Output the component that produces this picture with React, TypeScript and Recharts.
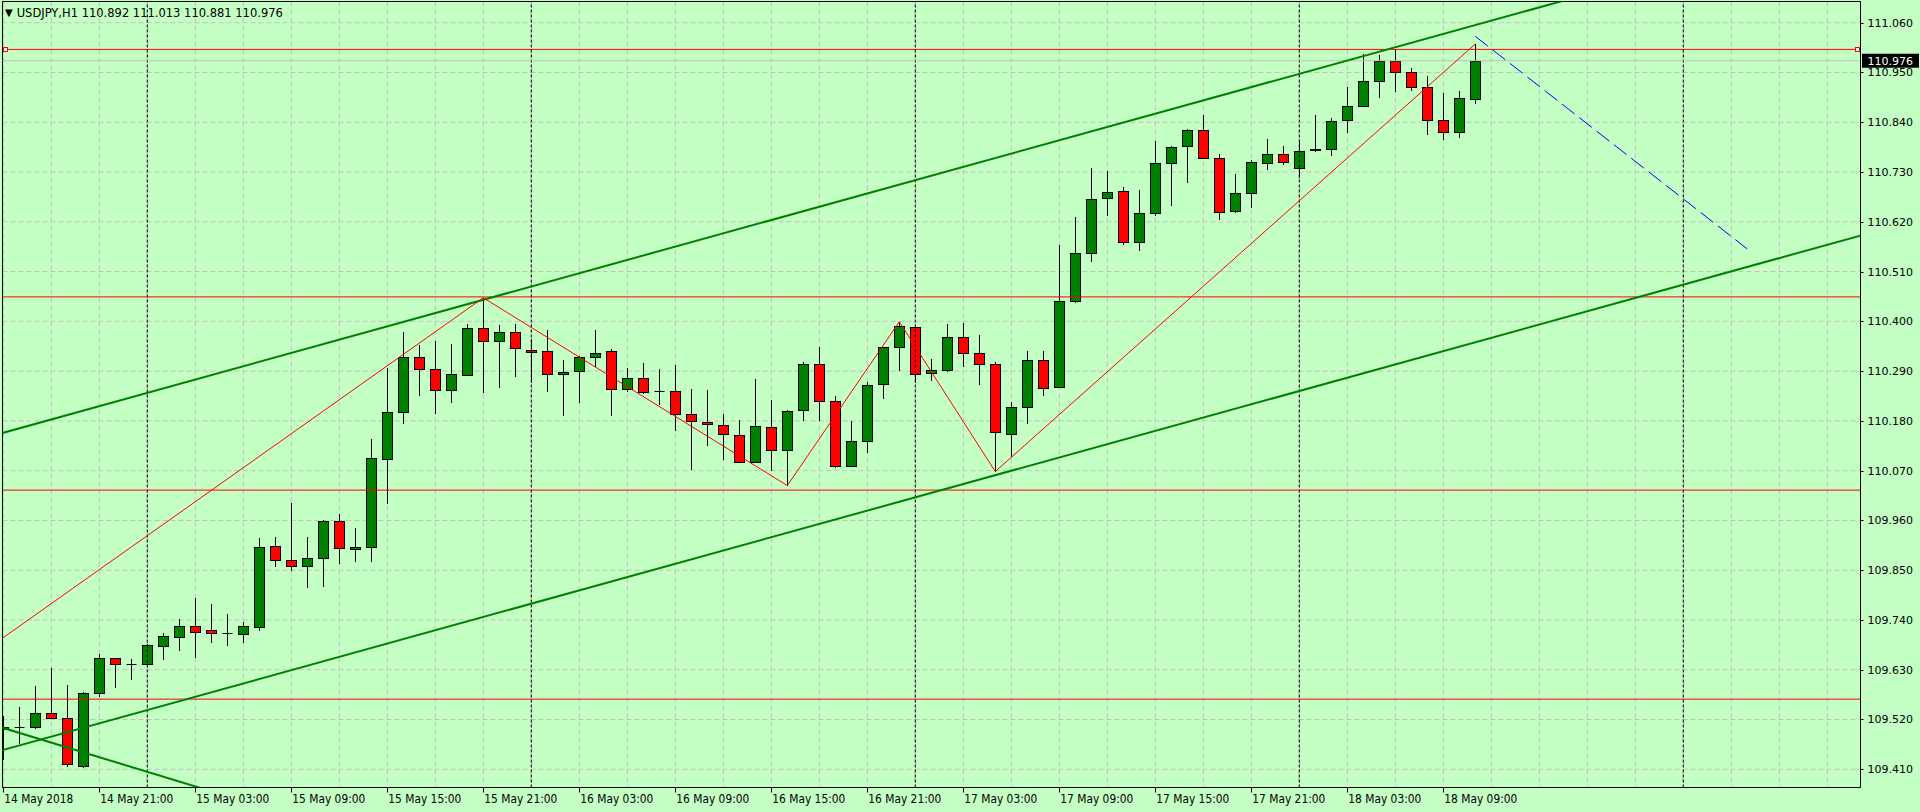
import React from "react";
import {
  ComposedChart,
  Bar,
  XAxis,
  YAxis,
  CartesianGrid,
  ReferenceLine,
} from "recharts";

// USDJPY H1, one entry per hourly bar: index 0 = 14 May 15:00 ... index 92 = 18 May 11:00
const opens = [
  109.5, 109.503, 109.503, 109.535, 109.523, 109.418, 109.578, 109.655, 109.642, 109.642,
  109.683, 109.703, 109.727, 109.718, 109.711, 109.709, 109.724, 109.903, 109.873, 109.859,
  109.878, 109.959, 109.896, 109.901, 110.095, 110.199, 110.322, 110.294, 110.248, 110.281,
  110.385, 110.356, 110.376, 110.336, 110.334, 110.283, 110.29, 110.322, 110.334, 110.25,
  110.274, 110.245, 110.245, 110.195, 110.177, 110.17, 110.148, 110.09, 110.166, 110.115,
  110.203, 110.305, 110.223, 110.08, 110.135, 110.261, 110.343, 110.387, 110.285, 110.292,
  110.365, 110.329, 110.305, 110.152, 110.21, 110.314, 110.254, 110.446, 110.55, 110.672,
  110.687, 110.575, 110.639, 110.749, 110.787, 110.822, 110.762, 110.643, 110.683, 110.751,
  110.769, 110.738, 110.778, 110.782, 110.844, 110.877, 110.931, 110.975, 110.95, 110.917,
  110.844, 110.819, 110.892,
];
const highs = [
  109.527, 109.547, 109.594, 109.633, 109.596, 109.58, 109.665, 109.657, 109.653, 109.686,
  109.712, 109.742, 109.789, 109.775, 109.753, 109.736, 109.922, 109.924, 109.999, 109.923,
  109.96, 109.974, 109.943, 110.139, 110.296, 110.376, 110.348, 110.357, 110.349, 110.394,
  110.452, 110.391, 110.394, 110.362, 110.381, 110.314, 110.323, 110.381, 110.339, 110.296,
  110.307, 110.294, 110.303, 110.25, 110.248, 110.195, 110.181, 110.272, 110.226, 110.203,
  110.31, 110.343, 110.234, 110.18, 110.265, 110.344, 110.399, 110.388, 110.317, 110.394,
  110.396, 110.369, 110.31, 110.221, 110.334, 110.334, 110.568, 110.631, 110.738, 110.732,
  110.698, 110.69, 110.799, 110.788, 110.824, 110.856, 110.769, 110.725, 110.756, 110.802,
  110.787, 110.8, 110.856, 110.849, 110.918, 110.99, 110.989, 111.001, 110.959, 110.942,
  110.905, 110.909, 111.013,
];
const lows = [
  109.431, 109.466, 109.498, 109.522, 109.416, 109.413, 109.57, 109.59, 109.607, 109.641,
  109.651, 109.672, 109.657, 109.688, 109.683, 109.688, 109.716, 109.856, 109.849, 109.81,
  109.812, 109.864, 109.869, 109.867, 109.996, 110.172, 110.236, 110.195, 110.22, 110.28,
  110.242, 110.253, 110.278, 110.264, 110.244, 110.191, 110.22, 110.3, 110.191, 110.244,
  110.239, 110.214, 110.158, 110.071, 110.125, 110.094, 110.088, 110.088, 110.07, 110.037,
  110.18, 110.18, 110.075, 110.077, 110.11, 110.229, 110.291, 110.263, 110.269, 110.289,
  110.298, 110.26, 110.068, 110.101, 110.172, 110.234, 110.252, 110.441, 110.532, 110.633,
  110.568, 110.556, 110.633, 110.656, 110.706, 110.76, 110.625, 110.639, 110.651, 110.734,
  110.745, 110.716, 110.774, 110.765, 110.817, 110.876, 110.894, 110.907, 110.91, 110.812,
  110.801, 110.806, 110.881,
];
const closes = [
  109.503, 109.503, 109.534, 109.523, 109.422, 109.578, 109.657, 109.642, 109.642, 109.685,
  109.704, 109.727, 109.714, 109.711, 109.711, 109.727, 109.901, 109.873, 109.859, 109.876,
  109.959, 109.898, 109.901, 110.097, 110.2, 110.322, 110.294, 110.248, 110.283, 110.385,
  110.356, 110.376, 110.34, 110.332, 110.283, 110.287, 110.322, 110.331, 110.25, 110.274,
  110.243, 110.245, 110.195, 110.179, 110.172, 110.15, 110.09, 110.168, 110.115, 110.201,
  110.305, 110.225, 110.08, 110.135, 110.259, 110.343, 110.389, 110.283, 110.292, 110.365,
  110.329, 110.305, 110.155, 110.21, 110.314, 110.252, 110.444, 110.55, 110.67, 110.685,
  110.575, 110.639, 110.749, 110.785, 110.822, 110.762, 110.641, 110.683, 110.753, 110.769,
  110.753, 110.776, 110.782, 110.842, 110.877, 110.931, 110.975, 110.95, 110.917, 110.844,
  110.819, 110.893, 110.976,
];

// one label every 6 bars, starting at bar 0
const timeLabels = [
  "14 May 2018", "14 May 21:00", "15 May 03:00", "15 May 09:00", "15 May 15:00",
  "15 May 21:00", "16 May 03:00", "16 May 09:00", "16 May 15:00", "16 May 21:00",
  "17 May 03:00", "17 May 09:00", "17 May 15:00", "17 May 21:00", "18 May 03:00",
  "18 May 09:00",
];
const priceTicks = [
  109.41, 109.52, 109.63, 109.74, 109.85, 109.96, 110.07, 110.18, 110.29, 110.4,
  110.51, 110.62, 110.73, 110.84, 110.95, 111.06,
];
const daySeparators = [9, 33, 57, 81, 105];
const redLevels = [111.001, 110.454, 110.027, 109.565];
const bidPrice = 110.976;

// drawn objects, as [bar index, price]
const upperChannel = [[-1, 110.144], [120, 111.329]];
const lowerChannel = [[-1, 109.443], [120, 110.628]];
const fallingLine = [[-1, 109.512], [20, 109.286]];
const zigzag = [[-1, 109.676], [30, 110.452], [49, 110.037], [56, 110.399], [62, 110.068], [92, 111.013]];
const forecast = [[92, 111.03], [109, 110.56]];

const X_MIN = -0.05;
const X_MAX = 116.075;
const Y_MIN = 109.3697;
const Y_MAX = 111.1069;

const BG = "#C4FFC4";
const GRID = "#C0C0C0";
const BULL = "#008000";
const BEAR = "#FF0000";
const FONT = "DejaVu Sans, Tahoma, sans-serif";

const gridIdx = Array.from({ length: 39 }, (_, k) => k * 3);

const rows = opens.map((o, i) => ({ i, o, h: highs[i], l: lows[i], c: closes[i] }));

function Candle(props: any) {
  const { x, y, width, height, payload } = props;
  if (!payload) return <g />;
  const { o, h, l, c } = payload;
  const top = Math.min(y, y + height);
  const bottom = Math.max(y, y + height);
  const toY = (p: number) => top + ((h - p) / (h - l)) * (bottom - top);
  const cx = Math.round(x + width / 2) + 0.5;
  const yo = Math.round(toY(o));
  const yc = Math.round(toY(c));
  const bTop = Math.min(yo, yc);
  const bBot = Math.max(yo, yc);
  return (
    <g>
      <line x1={cx} x2={cx} y1={Math.round(top)} y2={Math.round(bottom)} stroke="#000" />
      {bBot - bTop < 1 ? (
        <line x1={cx - 5} x2={cx + 5} y1={bTop + 0.5} y2={bTop + 0.5} stroke="#000" />
      ) : (
        <rect
          x={cx - 5}
          y={bTop + 0.5}
          width={10}
          height={bBot - bTop}
          fill={c > o ? BULL : BEAR}
          stroke="#000"
        />
      )}
    </g>
  );
}

function TimeTick(props: any) {
  const { x, y, payload } = props;
  const idx = payload.value;
  const label = idx % 6 === 0 ? timeLabels[idx / 6] : undefined;
  if (!label) return <g />;
  const tx = Math.round(x) + 0.5;
  return (
    <g>
      <line x1={tx} x2={tx} y1={y} y2={y + 5} stroke="#000" />
      <text
        x={x + 1}
        y={y + 15}
        fontSize={12}
        fontFamily={FONT}
        fill="#000"
        textLength={idx === 0 ? 69 : 73}
        lengthAdjust="spacingAndGlyphs"
      >
        {label}
      </text>
    </g>
  );
}

function PriceTick(props: any) {
  const { x, y, payload } = props;
  const ty = Math.round(y) + 0.5;
  return (
    <g>
      <line x1={x} x2={x + 3} y1={ty} y2={ty} stroke="#000" />
      <text x={x + 7} y={y + 4} fontSize={11} fontFamily={FONT} fill="#000">
        {payload.value.toFixed(3)}
      </text>
    </g>
  );
}

function Handles(props: any) {
  const vb = props.viewBox;
  if (!vb) return <g />;
  const cy = Math.floor(vb.y);
  const xs = [vb.x + 3, vb.x + vb.width - 3];
  return (
    <g>
      {xs.map((cx, k) => (
        <rect
          key={k}
          x={Math.floor(cx) - 1.5}
          y={cy - 1.5}
          width={4}
          height={4}
          fill="#fff"
          stroke={BEAR}
        />
      ))}
    </g>
  );
}

function BidTag(props: any) {
  const vb = props.viewBox;
  if (!vb) return <g />;
  const x = vb.x + vb.width + 1.5;
  const y = vb.y;
  return (
    <g>
      <rect x={x} y={y - 7} width={57} height={14} fill="#000" />
      <text x={x + 5.5} y={y + 4} fontSize={11} fontFamily={FONT} fill="#fff">
        {bidPrice.toFixed(3)}
      </text>
    </g>
  );
}

const seg = (pts: number[][]) => pts.slice(1).map((p, k) => [
  { x: pts[k][0], y: pts[k][1] },
  { x: p[0], y: p[1] },
]);

export default function App() {
  return (
    <div
      style={{
        position: "absolute",
        left: 0,
        top: 0,
        width: 1920,
        height: 812,
        background: BG,
        overflow: "hidden",
      }}
    >
      <ComposedChart
        width={1920}
        height={812}
        data={rows}
        margin={{ top: 1.5, right: 1.5, bottom: 2.5, left: 2.5 }}
      >
        <CartesianGrid stroke={GRID} strokeDasharray="5 3" fill="none" />
        <XAxis
          dataKey="i"
          type="number"
          domain={[X_MIN, X_MAX]}
          allowDataOverflow
          ticks={gridIdx}
          interval={0}
          height={22}
          tickSize={0}
          tickMargin={0}
          tickLine={false}
          axisLine={{ stroke: "#000" }}
          tick={<TimeTick />}
        />
        <YAxis
          orientation="right"
          type="number"
          domain={[Y_MIN, Y_MAX]}
          allowDataOverflow
          ticks={priceTicks}
          interval={0}
          width={58}
          tickSize={0}
          tickMargin={0}
          tickLine={false}
          axisLine={{ stroke: "#000" }}
          tick={<PriceTick />}
        />
        {daySeparators.map((d) => (
          <ReferenceLine key={"sep" + d} x={d} stroke="#000" strokeDasharray="3 2" />
        ))}
        <ReferenceLine x={X_MIN} stroke="#000" />
        <ReferenceLine y={Y_MAX} stroke="#000" />
        <ReferenceLine y={bidPrice} stroke={GRID} label={(p: any) => <BidTag {...p} />} />
        <Bar
          dataKey={(d: any) => [d.l, d.h]}
          barSize={10}
          isAnimationActive={false}
          shape={(p: any) => <Candle {...p} />}
        />
        {redLevels.map((v, k) => (
          <ReferenceLine
            key={"lvl" + k}
            y={v}
            stroke={BEAR}
            label={k === 0 ? (p: any) => <Handles {...p} /> : undefined}
          />
        ))}
        {[upperChannel, lowerChannel, fallingLine].map((line, k) => (
          <ReferenceLine
            key={"ch" + k}
            segment={seg(line)[0]}
            stroke={BULL}
            strokeWidth={2}
            ifOverflow="hidden"
          />
        ))}
        {seg(zigzag).map((s, k) => (
          <ReferenceLine key={"zz" + k} segment={s} stroke={BEAR} ifOverflow="hidden" />
        ))}
        <ReferenceLine
          segment={seg(forecast)[0]}
          stroke="#0000FF"
          strokeDasharray="16 6"
          ifOverflow="hidden"
        />
      </ComposedChart>
      <div
        style={{
          position: "absolute",
          left: 5,
          top: 6,
          fontFamily: FONT,
          fontSize: 11.5,
          lineHeight: "13px",
          color: "#000",
          whiteSpace: "pre",
        }}
      >
        <span style={{ fontSize: 10, verticalAlign: "1px" }}>▼</span>
        <span style={{ marginLeft: 4 }}>
          USDJPY,H1 110.892 111.013 110.881 110.976
        </span>
      </div>
    </div>
  );
}
